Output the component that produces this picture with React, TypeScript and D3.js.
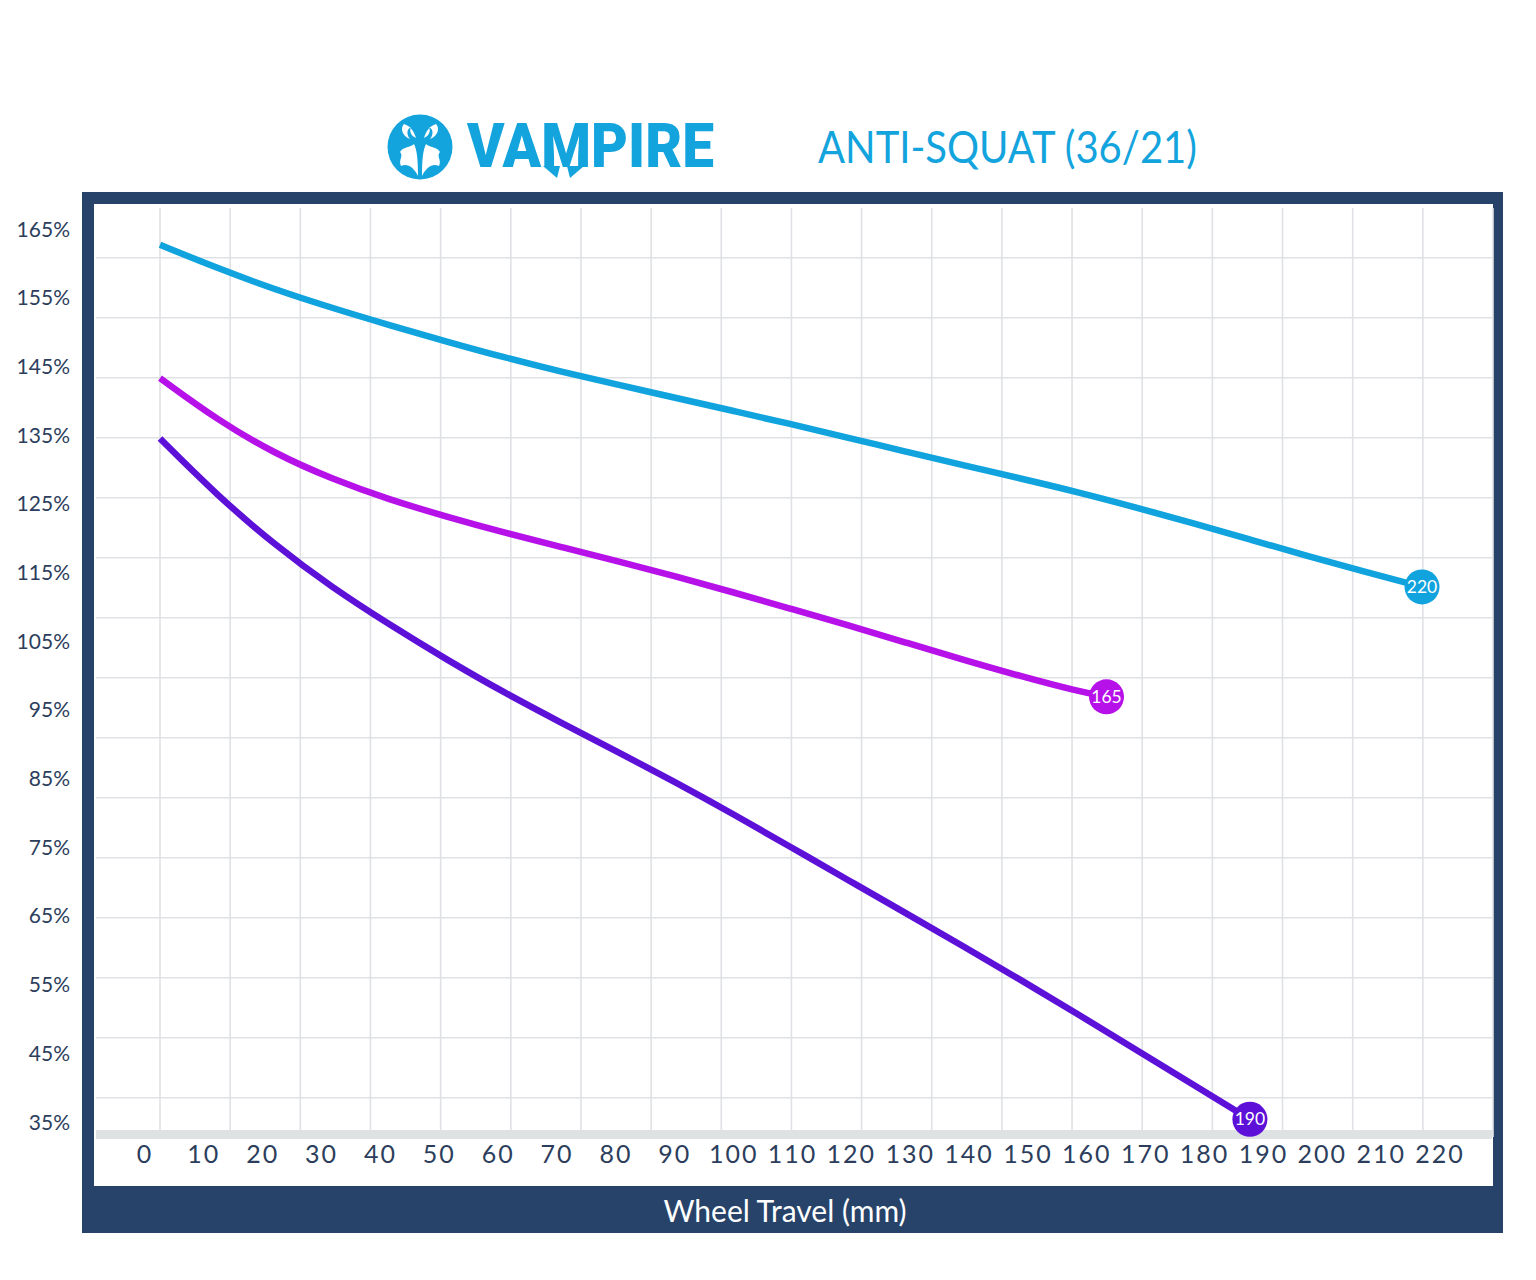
import React from "react";
import * as d3 from "d3";

// ---- data ----
const xTickLabels = ["0","10","20","30","40","50","60","70","80","90","100","110","120","130","140","150","160","170","180","190","200","210","220"];
const yTickValues = [165,155,145,135,125,115,105,95,85,75,65,55,45,35];

const blueTravel = [0,10,20,30,40,50,60,70,80,90,100,110,120,130,140,150,160,170,180,190,200,210,220];
const blueValues = [162.7,159.3,156.2,153.5,151.0,148.6,146.3,144.2,142.3,140.4,138.5,136.6,134.6,132.6,130.6,128.7,126.7,124.5,122.2,119.8,117.4,115.1,112.9];

const magentaTravel = [0,10,20,30,40,50,60,70,80,90,100,110,120,130,140,150,160,165];
const magentaValues = [143.3,137.2,132.3,128.6,125.6,123.1,120.8,118.7,116.6,114.4,112.1,109.7,107.3,104.8,102.3,99.9,97.7,96.9];

const purpleTravel = [0,10,20,30,40,50,60,70,80,90,100,110,120,130,140,150,160,170,180,190];
const purpleValues = [134.5,126.2,119.0,112.8,107.4,102.3,97.5,93.1,88.8,84.4,79.8,75.0,70.2,65.4,60.6,55.7,50.7,45.6,40.5,35.4];

const seriesNames = ["220", "165", "190"];
const seriesColors = ["#10a3dd", "#b511e8", "#5c10d8"];

const NAVY = "#27436a";
const TEXT = "#2c3e5c";
const GRID = "#dfe1e4";
const FONT = "Lato, 'Open Sans', sans-serif";

export default function App() {
  const x = d3.scaleLinear().domain([0, 220]).range([160, 1422]);
  const y = d3.scaleLinear().domain([35, 165]).range([1122, 229]);
  const xLabel = d3.scalePoint<string>().domain(xTickLabels).range([145, 1440]);
  const gridX = d3.scaleLinear().domain([0, 19]).range([160, 1493]);
  const gridY = d3.scaleLinear().domain([0, 14]).range([257.7, 1097.7]);

  const line = d3
    .line<[number, number]>()
    .x((d) => x(d[0]))
    .y((d) => y(d[1]))
    .curve(d3.curveBasis);

  const series = [
    { travel: blueTravel, values: blueValues },
    { travel: magentaTravel, values: magentaValues },
    { travel: purpleTravel, values: purpleValues },
  ].map((s, i) => ({
    name: seriesNames[i],
    color: seriesColors[i],
    pts: s.travel.map((t, k) => [t, s.values[k]] as [number, number]),
  }));

  return (
    <svg
      width={1536}
      height={1280}
      style={{ position: "absolute", left: 0, top: 0, background: "#fff" }}
    >
      {/* Logo */}
      <g>
        <circle cx={420} cy={147} r={32.5} fill="#13a3dd" />
        <path
          d="M404,124 C400,128 402,136 410,139 C406,134 407,129 411,127 C409,131 411,136 416,138 C414,132 412,127 404,124 Z"
          fill="#fff"
        />
        <path
          d="M436,124 C440,128 438,136 430,139 C434,134 433,129 429,127 C431,131 429,136 424,138 C426,132 428,127 436,124 Z"
          fill="#fff"
        />
        <path
          d="M418,176 C414,168 408,163 401,166 C398,160 404,156 400,152 C404,146 410,148 414,144 C417,150 418,160 418,176 Z"
          fill="#fff"
        />
        <path
          d="M422,176 C426,168 432,163 439,166 C442,160 436,156 440,152 C436,146 430,148 426,144 C423,150 422,160 422,176 Z"
          fill="#fff"
        />
        <text
          x={467}
          y={167}
          fontFamily="Roboto, sans-serif"
          fontWeight={900}
          fontSize={62}
          fill="#13a3dd"
          textLength={247}
          lengthAdjust="spacingAndGlyphs"
        >
          VAMPIRE
        </text>
        <path d="M543,166 L560,166 L557,178 Z" fill="#13a3dd" />
        <path d="M567,166 L584,166 L570,178 Z" fill="#13a3dd" />
      </g>
      <text
        x={818}
        y={163}
        fontFamily={FONT}
        fontWeight={400}
        fontSize={44}
        fill="#13a3dd"
        textLength={379}
        lengthAdjust="spacingAndGlyphs"
      >
        ANTI-SQUAT (36/21)
      </text>

      {/* Frame */}
      <rect x={82} y={192} width={1421} height={1041} fill={NAVY} />
      <rect x={94} y={204} width={1399} height={982} fill="#fff" />

      {/* Grid */}
      <g stroke={GRID} strokeWidth={1.6}>
        {d3.range(15).map((j) => (
          <line key={"h" + j} x1={96} x2={1492} y1={gridY(j)} y2={gridY(j)} />
        ))}
        {d3.range(20).map((i) => (
          <line key={"v" + i} x1={gridX(i)} x2={gridX(i)} y1={208} y2={1137} />
        ))}
      </g>
      <rect x={96} y={1130} width={1396} height={9} fill="#dfe2e3" />

      {/* Y labels */}
      <g fontFamily={FONT} fontSize={21} fill={TEXT} textAnchor="end">
        {yTickValues.map((v) => (
          <text key={v} x={70} y={y(v) + 7.5}>
            {v}%
          </text>
        ))}
      </g>

      {/* X labels */}
      <g fontFamily={FONT} fontSize={25} fill={TEXT} textAnchor="middle" letterSpacing={2}>
        {xTickLabels.map((l) => (
          <text key={l} x={xLabel(l)} y={1163}>
            {l}
          </text>
        ))}
      </g>

      {/* Lines */}
      {series.map((s) => (
        <path
          key={s.name}
          d={line(s.pts) || ""}
          fill="none"
          stroke={s.color}
          strokeWidth={6.5}
        />
      ))}
      {series.map((s) => {
        const last = s.pts[s.pts.length - 1];
        return (
          <g key={"m" + s.name}>
            <circle cx={x(last[0])} cy={y(last[1])} r={17.5} fill={s.color} />
            <text
              x={x(last[0])}
              y={y(last[1]) + 6}
              textAnchor="middle"
              fontFamily={FONT}
              fontSize={17.5}
              fill="#fff"
            >
              {s.name}
            </text>
          </g>
        );
      })}

      {/* X axis title */}
      <text
        x={785}
        y={1222}
        textAnchor="middle"
        fontFamily={FONT}
        fontSize={30}
        fill="#fff"
      >
        Wheel Travel (mm)
      </text>
    </svg>
  );
}
